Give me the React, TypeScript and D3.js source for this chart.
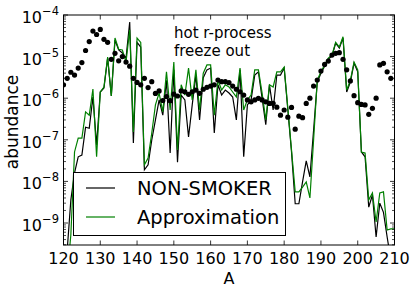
import React from 'react';
import * as d3 from 'd3';

// Mass number range (one entry per integer A starting at A_START)
const A_START = 120;
const xTicks = [120, 130, 140, 150, 160, 170, 180, 190, 200, 210];
const yTickExps = [-4, -5, -6, -7, -8, -9];

// NON-SMOKER abundances, A = 120 .. 210
const nonSmoker = [
  1.4e-11, 2.2e-10, 3.6e-9, 1.6e-8, 3.9e-8, 4.3e-8, 2.0e-7, 1.9e-7, 1.07e-6, 7.5e-8,
  1.41e-6, 1.76e-6, 9.2e-6, 1.13e-6, 2.5e-5, 1.44e-5, 1.22e-5, 9.2e-6, 6.8e-5, 8.4e-8,
  2.2e-5, 1.7e-5, 1.9e-8, 2.5e-8, 9.9e-8, 3.0e-7, 9.1e-7, 3.9e-7, 2.7e-6, 4.8e-8,
  4.8e-6, 2.9e-8, 1.19e-6, 9.1e-7, 1.17e-7, 6.9e-7, 3.6e-6, 3.0e-7, 3.1e-6, 4.8e-6,
  5.3e-6, 1.46e-7, 2.1e-6, 1.19e-6, 1.57e-6, 1.33e-6, 1.07e-6, 3.0e-7, 4.8e-6, 3.9e-8,
  6.9e-7, 9.1e-7, 3.6e-6, 4.3e-6, 1.0e-6, 2.3e-7, 2.1e-6, 5.2e-7, 3.6e-6, 3.6e-6,
  5.3e-6, 5.2e-7, 5.1e-8, 2.9e-9, 2.9e-9, 9.7e-9, 3.1e-8, 1.28e-8, 1.7e-7, 2.45e-6,
  4.0e-6, 5.9e-6, 8.8e-6, 1.03e-5, 2.1e-5, 1.6e-5, 2.8e-5, 1.41e-6, 2.45e-6, 7.0e-6,
  4.3e-6, 5.1e-8, 3.9e-8, 2.4e-9, 4.7e-9, 4.6e-10, 3.0e-9, 1.8e-9, 4.6e-10, 1.3e-10,
  4.3e-11,
];

// Approximation abundances, A = 120 .. 210
const approximation = [
  1.4e-11, 5.6e-11, 5.2e-10, 5.1e-8, 1.1e-7, 1.1e-7, 4.7e-7, 3.9e-7, 1.66e-6, 3.9e-8,
  1.41e-6, 1.86e-6, 9.8e-6, 1.13e-6, 2.8e-5, 1.5e-5, 1.44e-5, 7.4e-6, 4.4e-5, 1.54e-7,
  2.8e-5, 2.2e-5, 2.5e-8, 3.65e-8, 1.46e-7, 6.9e-7, 1.33e-6, 4.7e-7, 4.3e-6, 5.2e-7,
  7.4e-6, 5.7e-8, 2.1e-6, 1.19e-6, 5.3e-6, 9.1e-7, 4.8e-6, 5.2e-7, 4.0e-6, 6.3e-6,
  6.3e-6, 3.9e-7, 2.7e-6, 1.57e-6, 2.1e-6, 1.86e-6, 1.41e-6, 1.07e-6, 5.3e-6, 5.2e-7,
  9.1e-7, 1.19e-6, 4.8e-6, 4.8e-6, 1.33e-6, 3.0e-7, 2.1e-6, 1.86e-6, 4.3e-6, 4.3e-6,
  5.6e-6, 5.8e-7, 5.7e-8, 5.6e-9, 5.6e-9, 7.3e-9, 9.7e-9, 4.0e-9, 9.9e-8, 2.7e-6,
  4.3e-6, 6.3e-6, 9.2e-6, 1.09e-5, 2.2e-5, 1.7e-5, 3.0e-5, 1.57e-6, 2.7e-6, 7.4e-6,
  4.8e-6, 5.1e-8, 4.8e-8, 3.6e-9, 5.3e-9, 1.06e-9, 5.3e-9, 5.6e-9, 6.8e-10, 7.2e-10,
  7.2e-10,
];

// Hot r-process freeze-out abundances (dots), A = 120 .. 209
const freezeOut = [
  2.1e-6, 3.0e-6, 4.2e-6, 3.6e-6, 5.3e-6, 7.2e-6, 1.4e-5, 2.3e-5, 4.1e-5, 3.4e-5,
  4.5e-5, 2.6e-5, 2.2e-5, 8.6e-6, 1.2e-5, 7.9e-6, 1.0e-5, 7.4e-6, 5.9e-6, 3.0e-6,
  2.4e-6, 2.1e-6, 3.0e-6, 1.8e-6, 2.5e-6, 1.3e-6, 1.5e-6, 8.8e-7, 1.1e-6, 8.7e-7,
  1.25e-6, 1.13e-6, 1.5e-6, 1.43e-6, 1.24e-6, 1.43e-6, 1.57e-6, 1.31e-6, 1.64e-6, 1.83e-6,
  1.96e-6, 2.1e-6, 2.74e-6, 2.5e-6, 2.5e-6, 2.36e-6, 1.96e-6, 1.64e-6, 1.43e-6, 1.19e-6,
  9.1e-7, 8.2e-7, 9.1e-7, 9.95e-7, 9.1e-7, 8.2e-7, 7.5e-7, 7.5e-7, 6.1e-7, 3.9e-7,
  5.2e-7, 3.5e-7, 6.0e-7, 1.8e-7, 3.7e-7, 3.4e-7, 7.5e-7, 1.0e-6, 1.96e-6, 2.74e-6,
  4.5e-6, 6.5e-6, 7.8e-6, 1.09e-5, 1.2e-5, 1.24e-5, 8.6e-6, 4.8e-6, 2.6e-6, 1.15e-6,
  7.8e-7, 7.1e-7, 6.9e-7, 4.1e-7, 5.7e-7, 1.0e-6, 6.3e-6, 6.9e-6, 4.3e-6, 3.0e-6,
];

const W = 415;
const H = 296;
const L = 63.5;
const R = 394.5;
const T = 15;
const B = 245;
const FONT = 'DejaVu Sans, sans-serif';

export default function App() {
  const x = d3.scaleLinear().domain([120, 210]).range([L, R]);
  const y = d3.scaleLog().domain([2.96e-10, 1e-4]).range([B, T]);

  const line = d3
    .line<number>()
    .x((_, i) => x(A_START + i))
    .y((v) => y(v));

  const minor: number[] = [];
  for (let e = -10; e <= -5; e++) {
    for (let k = 2; k <= 9; k++) {
      const v = k * Math.pow(10, e);
      if (v > 2.96e-10 && v < 1e-4) minor.push(v);
    }
  }

  return (
    <svg width={W} height={H} style={{ display: 'block', position: 'absolute', left: 0, top: 0 }}>
      <rect x={0} y={0} width={W} height={H} fill="#fff" />
      <defs>
        <clipPath id="plotclip">
          <rect x={L} y={T} width={R - L} height={B - T} />
        </clipPath>
      </defs>
      <g clipPath="url(#plotclip)">
        <path d={line(nonSmoker) || ''} fill="none" stroke="#000" strokeWidth={1.2} />
        <path d={line(approximation) || ''} fill="none" stroke="#008000" strokeWidth={1.2} />
        {freezeOut.map((v, i) => (
          <circle key={i} cx={x(A_START + i)} cy={y(v)} r={2.6} fill="#000" />
        ))}
      </g>
      {/* ticks */}
      {xTicks.map((t) => (
        <g key={t}>
          <line x1={x(t)} x2={x(t)} y1={B} y2={B - 4.5} stroke="#000" strokeWidth={0.8} />
          <line x1={x(t)} x2={x(t)} y1={T} y2={T + 4.5} stroke="#000" strokeWidth={0.8} />
          <text x={x(t)} y={264} textAnchor="middle" fontFamily={FONT} fontSize={16} fill="#000">
            {t}
          </text>
        </g>
      ))}
      {yTickExps.map((e) => {
        const ty = y(Math.pow(10, e));
        return (
          <g key={e}>
            <line x1={L} x2={L + 4.5} y1={ty} y2={ty} stroke="#000" strokeWidth={0.8} />
            <line x1={R} x2={R - 4.5} y1={ty} y2={ty} stroke="#000" strokeWidth={0.8} />
            <text x={59} y={ty + 8} textAnchor="end" fontFamily={FONT} fontSize={16} fill="#000">
              10
              <tspan dy={-8} fontSize={11.5}>
                {'\u2212' + Math.abs(e)}
              </tspan>
            </text>
          </g>
        );
      })}
      {minor.map((v, i) => (
        <g key={i}>
          <line x1={L} x2={L + 2.5} y1={y(v)} y2={y(v)} stroke="#000" strokeWidth={0.7} />
          <line x1={R} x2={R - 2.5} y1={y(v)} y2={y(v)} stroke="#000" strokeWidth={0.7} />
        </g>
      ))}
      <rect x={L} y={T} width={R - L} height={B - T} fill="none" stroke="#000" strokeWidth={1} />
      {/* annotation */}
      <text fontFamily={FONT} fontSize={15} fill="#000">
        <tspan x={174} y={38}>hot r-process</tspan>
        <tspan x={174} y={55.5}>freeze out</tspan>
      </text>
      {/* legend */}
      <rect x={73.5} y={172.5} width={212} height={63} fill="#fff" stroke="#000" strokeWidth={1} />
      <line x1={86} x2={115} y1={188} y2={188} stroke="#000" strokeWidth={1.2} />
      <line x1={86} x2={115} y1={217} y2={217} stroke="#008000" strokeWidth={1.2} />
      <text x={137} y={194.5} fontFamily={FONT} fontSize={19.5} fill="#000">NON-SMOKER</text>
      <text x={137} y={223.5} fontFamily={FONT} fontSize={19.5} fill="#000">Approximation</text>
      {/* axis labels */}
      <text x={229} y={283.5} textAnchor="middle" fontFamily={FONT} fontSize={16} fill="#000">A</text>
      <text
        transform={`translate(18, 122) rotate(-90)`}
        textAnchor="middle"
        fontFamily={FONT}
        fontSize={17}
        fill="#000"
      >
        abundance
      </text>
    </svg>
  );
}
